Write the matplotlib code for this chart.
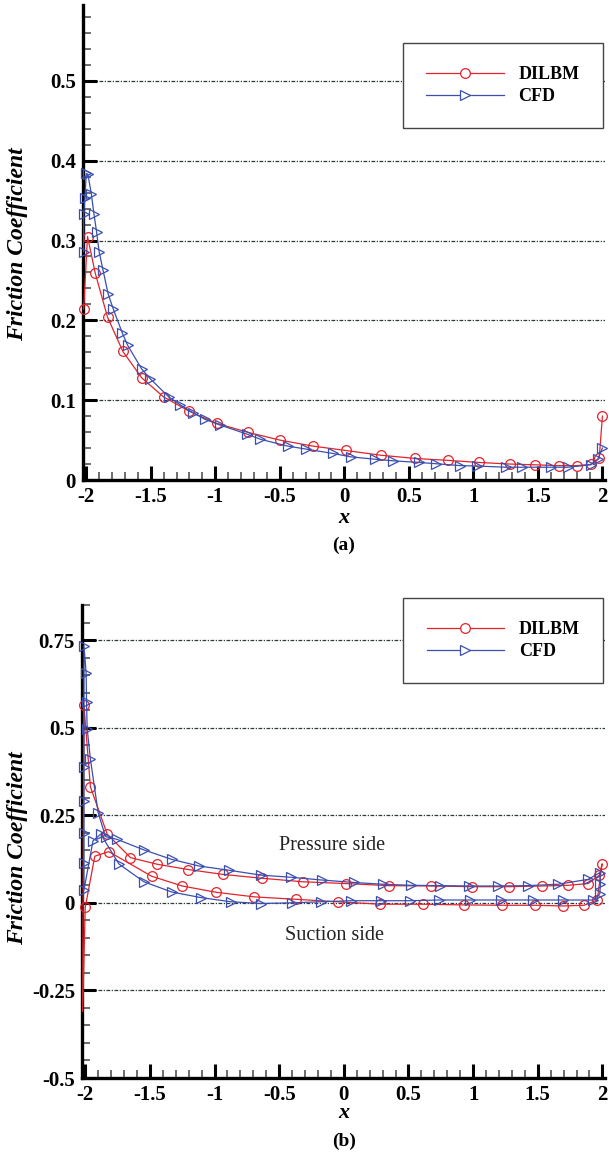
import matplotlib

matplotlib.use("Agg")
import matplotlib.pyplot as plt
from matplotlib.lines import Line2D
from matplotlib.ticker import MultipleLocator, StrMethodFormatter

# ---- panel (a) ----
a_dilbm_x = [-2.02, -1.99, -1.93, -1.835, -1.716, -1.57, -1.40, -1.20, -0.99, -0.745,
             -0.50, -0.245, 0.01, 0.285, 0.55, 0.80, 1.045, 1.28, 1.48, 1.66, 1.80,
             1.91, 1.975, 2.0]
a_dilbm_y = [0.214, 0.305, 0.259, 0.204, 0.161, 0.128, 0.104, 0.086, 0.071, 0.0596,
             0.050, 0.0425, 0.037, 0.031, 0.027, 0.0246, 0.022, 0.020, 0.019, 0.018,
             0.018, 0.0196, 0.027, 0.080]

a_cfd_x = [-2.02, -2.02, -2.01, -2.0, -1.987, -1.96, -1.94, -1.92, -1.90, -1.87,
           -1.83, -1.79, -1.72, -1.68, -1.57, -1.505, -1.36, -1.27, -1.17, -1.08,
           -0.965, -0.755, -0.65, -0.44, -0.30, -0.09, 0.05, 0.24, 0.38, 0.58, 0.71,
           0.90, 1.03, 1.25, 1.38, 1.60, 1.73, 1.91, 1.965, 2.0]
a_cfd_y = [0.286, 0.333, 0.353, 0.384, 0.383, 0.358, 0.333, 0.311, 0.286, 0.263,
           0.233, 0.214, 0.184, 0.169, 0.139, 0.127, 0.104, 0.094, 0.084, 0.076,
           0.069, 0.0575, 0.051, 0.0425, 0.0388, 0.0333, 0.029, 0.026, 0.024, 0.022,
           0.0204, 0.018, 0.0175, 0.016, 0.016, 0.016, 0.016, 0.019, 0.026, 0.040]

# ---- panel (b) ---- (one loop each: pressure side TE->LE, then suction side LE->TE)
b_dilbm_x = [1.997, 1.977, 1.89, 1.735, 1.529, 1.277, 0.994, 0.676, 0.347, 0.017,
             -0.314, -0.63, -0.934, -1.203, -1.443, -1.65, -1.83, -1.96, -2.01,
             -2.02, -2.0, -1.926, -1.818, -1.487, -1.25, -0.986, -0.694, -0.37,
             -0.048, 0.283, 0.61, 0.93, 1.223, 1.477, 1.696, 1.859, 1.96, 1.997]
b_dilbm_y = [0.110, 0.079, 0.055, 0.050, 0.048, 0.046, 0.046, 0.048, 0.049, 0.055,
             0.060, 0.070, 0.081, 0.095, 0.110, 0.129, 0.196, 0.331, 0.564,
             -0.31, -0.013, 0.133, 0.146, 0.076, 0.048, 0.030, 0.017, 0.010,
             0.003, -0.004, -0.004, -0.006, -0.007, -0.007, -0.009, -0.007, 0.008, 0.110]
b_dilbm_marks = [i for i in range(len(b_dilbm_x) - 1) if i != 19]

b_cfd_x = [1.98, 1.89, 1.657, 1.425, 1.192, 0.967, 0.74, 0.52, 0.30, 0.081, -0.169,
           -0.41, -0.642, -0.888, -1.12, -1.332, -1.546, -1.753, -1.843, -1.90,
           -1.96, -1.985, -1.99, -1.993, -2.01, -2.01, -2.01, -2.01, -2.01, -2.01,
           -1.94, -1.88, -1.74, -1.546, -1.332, -1.107, -0.874, -0.642, -0.40,
           -0.177, 0.056, 0.288, 0.513, 0.735, 0.973, 1.219, 1.464, 1.696, 1.93,
           1.98, 1.985, 1.98]
b_cfd_y = [0.086, 0.067, 0.053, 0.049, 0.048, 0.048, 0.049, 0.050, 0.053, 0.058, 0.065,
           0.073, 0.079, 0.093, 0.105, 0.124, 0.151, 0.181, 0.189, 0.257,
           0.410, 0.497, 0.574, 0.655, 0.734, 0.387, 0.291, 0.198, 0.113, 0.036,
           0.177, 0.196, 0.111, 0.060, 0.031, 0.015, 0.003, -0.002, 0.0,
           0.003, 0.006, 0.006, 0.006, 0.008, 0.008, 0.008, 0.008, 0.008, 0.008,
           0.026, 0.055, 0.086]
b_cfd_marks = list(range(len(b_cfd_x) - 1))

a_yticks = [0, 0.1, 0.2, 0.3, 0.4, 0.5]
b_yticks = [-0.5, -0.25, 0, 0.25, 0.5, 0.75]
x_ticks = [-2, -1.5, -1, -0.5, 0, 0.5, 1, 1.5, 2]

RED = "#e2232b"
BLUE = "#3a4fae"
SERIF = "Liberation Serif"


def style_axes(ax, yticks, yminor, ylim):
    ax.set_xlim(-2.025, 2.02)
    ax.set_ylim(*ylim)
    ax.spines["top"].set_visible(False)
    ax.spines["right"].set_visible(False)
    for side in ("left", "bottom"):
        ax.spines[side].set_linewidth(2.4)
    ax.set_xticks(x_ticks)
    ax.set_yticks(yticks)
    ax.xaxis.set_minor_locator(MultipleLocator(0.1))
    ax.yaxis.set_minor_locator(MultipleLocator(yminor))
    ax.xaxis.set_major_formatter(StrMethodFormatter("{x:g}"))
    ax.yaxis.set_major_formatter(StrMethodFormatter("{x:g}"))
    ax.tick_params(which="major", direction="in", length=10, width=2.2, pad=5,
                   labelsize=15)
    ax.tick_params(which="minor", direction="in", length=6, width=1.2, color="#555555")
    for lab in ax.get_xticklabels() + ax.get_yticklabels():
        lab.set_fontweight("bold")
        lab.set_fontfamily(SERIF)
    for t in yticks:
        ax.axhline(t, color="#2c3a3a", lw=0.9, ls=(0, (3, 1.2, 1, 1.2)), zorder=0)


def add_legend(ax, anchor):
    handles = [
        Line2D([], [], color=RED, lw=0.9, marker="o", ms=7, mfc="white", mec=RED, mew=0.9),
        Line2D([], [], color=BLUE, lw=0.9, marker=">", ms=6.5, mfc="white", mec=BLUE, mew=0.9),
    ]
    leg = ax.legend(handles, ["DILBM", "CFD"], loc="upper left", bbox_to_anchor=anchor,
                    borderaxespad=0, frameon=True, fancybox=False, framealpha=1,
                    edgecolor="#444444", borderpad=1.3, handlelength=4.3,
                    handletextpad=0.8, labelspacing=0.25,
                    prop={"family": SERIF, "weight": "bold", "size": 13})
    leg.get_frame().set_linewidth(1.0)
    leg.set_zorder(5)


def main() -> None:
    plt.rcParams["axes.unicode_minus"] = False
    fig = plt.figure(figsize=(6.09, 11.63), dpi=100)

    ax1 = fig.add_axes([83 / 609, 683 / 1163, 522 / 609, 475 / 1163])
    ax1.plot(a_dilbm_x, a_dilbm_y, color=RED, lw=0.9, marker="o", ms=7, mfc="none",
             mec=RED, mew=0.9, clip_on=False, zorder=3)
    ax1.plot(a_cfd_x, a_cfd_y, color=BLUE, lw=0.9, marker=">", ms=6.5, mfc="none",
             mec=BLUE, mew=0.9, clip_on=False, zorder=3)
    style_axes(ax1, a_yticks, 0.02, (0, 0.595))
    add_legend(ax1, (0.613, 0.92))

    ax2 = fig.add_axes([82 / 609, 85 / 1163, 523 / 609, 473 / 1163])
    ax2.plot(b_dilbm_x, b_dilbm_y, color=RED, lw=0.9, marker="o", ms=7, mfc="none",
             mec=RED, mew=0.9, markevery=b_dilbm_marks, clip_on=False, zorder=3)
    ax2.plot(b_cfd_x, b_cfd_y, color=BLUE, lw=0.9, marker=">", ms=6.5, mfc="none",
             mec=BLUE, mew=0.9, markevery=b_cfd_marks, clip_on=False, zorder=3)
    style_axes(ax2, b_yticks, 0.05, (-0.5, 0.85))
    add_legend(ax2, (0.614, 1.015))
    ax2.text(-0.09, 0.165, "Pressure side", family=SERIF, fontsize=14.5, ha="center",
             va="center", color="#222222")
    ax2.text(-0.07, -0.092, "Suction side", family=SERIF, fontsize=14.5, ha="center",
             va="center", color="#222222")

    for yc, xl_y, cap_y, cap in ((244, 518, 545, "(a)"), (848, 1113, 1141, "(b)")):
        fig.text(18 / 609, 1 - yc / 1163, "Friction Coefficient", rotation=90,
                 ha="center", va="center", family=SERIF, fontsize=17,
                 fontweight="bold", fontstyle="italic")
        fig.text(344 / 609, 1 - xl_y / 1163, "x", ha="center", va="center",
                 family=SERIF, fontsize=16, fontweight="bold", fontstyle="italic")
        fig.text(344 / 609, 1 - cap_y / 1163, cap, ha="center", va="center",
                 family=SERIF, fontsize=14, fontweight="bold")

    fig.savefig("out.png", dpi=100)


if __name__ == "__main__":
    main()
